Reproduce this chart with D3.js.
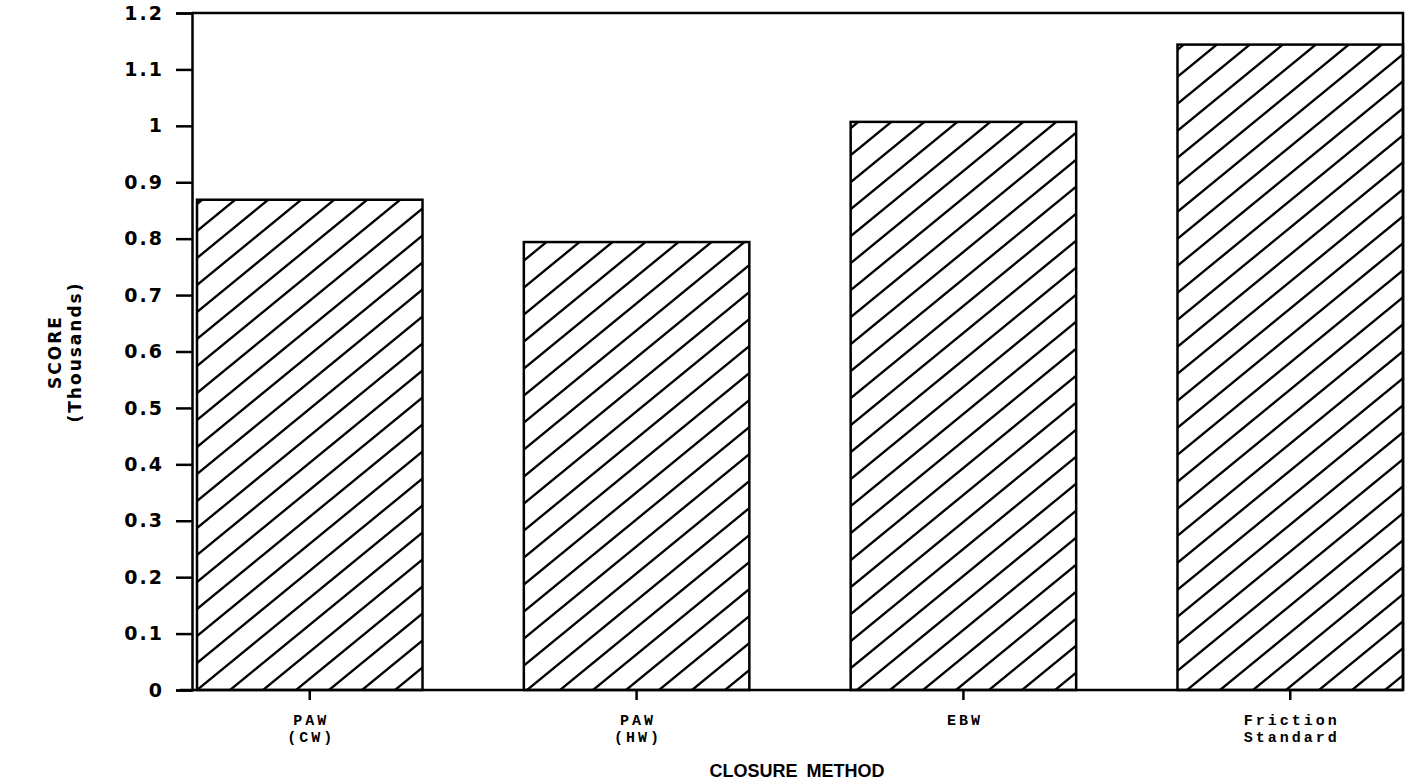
<!DOCTYPE html>
<html>
<head>
<meta charset="utf-8">
<script src="https://cdnjs.cloudflare.com/ajax/libs/d3/7.8.5/d3.min.js"></script>
<style>
  body { margin: 0; background: #fff; }
</style>
</head>
<body>
<div id="chart-area"></div>
<script>
// data
var categories = [['PAW', '(CW)'], ['PAW', '(HW)'], ['EBW'], ['Friction', 'Standard']];
var scores = [0.869, 0.794, 1.007, 1.144];
var yTicks = [0, 0.1, 0.2, 0.3, 0.4, 0.5, 0.6, 0.7, 0.8, 0.9, 1, 1.1, 1.2];

var W = 1411, H = 784;
// plot box (window.top is reserved, so use other names)
var plotLeft = 192, plotRight = 1403, plotTop = 13, plotBottom = 690;

var svg = d3.select('#chart-area')
  .append('svg')
    .attr('width', W)
    .attr('height', H);

// hatch pattern
var hw = 33, hh = 27;
svg.append('defs').append('pattern')
    .attr('id', 'hatch')
    .attr('patternUnits', 'userSpaceOnUse')
    .attr('x', 197)
    .attr('y', plotBottom)
    .attr('width', hw)
    .attr('height', hh)
  .append('path')
    .attr('d', 'M0,' + hh + 'L' + hw + ',0' +
      'M' + (-hw / 4) + ',' + (hh / 4) + 'L' + (hw / 4) + ',' + (-hh / 4) +
      'M' + (3 * hw / 4) + ',' + (5 * hh / 4) + 'L' + (5 * hw / 4) + ',' + (3 * hh / 4))
    .attr('stroke', '#000')
    .attr('stroke-width', 2.4);

// X Scale
var x = d3.scaleBand()
  .domain(d3.range(categories.length))
  .range([197, plotRight])
  .paddingInner(0.31)
  .paddingOuter(0);

// Y Scale
var y = d3.scaleLinear()
  .domain([0, 1.2])
  .range([plotBottom, plotTop]);

// bars
svg.selectAll('rect.bar')
  .data(scores)
  .enter()
  .append('rect')
    .attr('class', 'bar')
    .attr('x', function(d, i) { return x(i); })
    .attr('y', function(d) { return y(d); })
    .attr('width', x.bandwidth())
    .attr('height', function(d) { return plotBottom - y(d); })
    .attr('fill', 'url(#hatch)')
    .attr('stroke', '#000')
    .attr('stroke-width', 2.5);

// frame top + right
svg.append('path')
  .attr('d', 'M' + plotLeft + ',' + plotTop + 'H' + plotRight + 'V' + plotBottom)
  .attr('fill', 'none')
  .attr('stroke', '#000')
  .attr('stroke-width', 2.5);

// Y Axis
var yAxis = svg.append('g')
  .attr('transform', 'translate(' + plotLeft + ',0)')
  .call(d3.axisLeft(y)
    .tickValues(yTicks)
    .tickSize(16)
    .tickPadding(12)
    .tickFormat(d3.format('.1~f')));
yAxis.select('.domain').attr('stroke-width', 2.5);
yAxis.selectAll('.tick line').attr('stroke-width', 2.5);
yAxis.selectAll('.tick text')
  .attr('font-family', 'DejaVu Sans, sans-serif')
  .attr('font-weight', 'bold')
  .attr('font-size', '19px')
  .attr('letter-spacing', '2px')
  .attr('fill', '#000');

// X Axis
var xAxis = svg.append('g')
  .attr('transform', 'translate(0,' + plotBottom + ')')
  .call(d3.axisBottom(x).tickSize(10).tickFormat(''));
xAxis.select('.domain')
  .attr('d', 'M' + (plotLeft - 12) + ',0H' + plotRight)
  .attr('stroke-width', 2.5);
xAxis.selectAll('.tick line').attr('stroke-width', 2.5);

// category labels
svg.selectAll('text.cat')
  .data(categories)
  .enter()
  .append('text')
    .attr('class', 'cat')
    .attr('text-anchor', 'middle')
    .attr('font-family', 'Liberation Mono, DejaVu Sans Mono, monospace')
    .attr('font-weight', 'bold')
    .attr('font-size', '15px')
    .attr('letter-spacing', '3px')
    .each(function(d, i) {
      var t = d3.select(this);
      d.forEach(function(line, k) {
        t.append('tspan')
          .attr('x', x(i) + x.bandwidth() / 2 + 1.5)
          .attr('y', 725 + k * 17)
          .text(line);
      });
    });

// X label
svg.append('text')
  .attr('x', 797)
  .attr('y', 777)
  .attr('text-anchor', 'middle')
  .attr('font-family', 'Liberation Sans, Arial, sans-serif')
  .attr('font-weight', 'bold')
  .attr('font-size', '18px')
  .attr('word-spacing', '4px')
  .text('CLOSURE METHOD');

// Y label
var yLabel = svg.append('text')
  .attr('transform', 'translate(0,' + 352 + ') rotate(-90)')
  .attr('text-anchor', 'middle')
  .attr('font-family', 'DejaVu Sans, sans-serif')
  .attr('font-weight', 'bold')
  .attr('font-size', '17px')
  .attr('letter-spacing', '2px');
yLabel.append('tspan').attr('x', 0).attr('y', 61).text('SCORE');
yLabel.append('tspan').attr('x', 0).attr('y', 81).text('(Thousands)');
</script>
</body>
</html>
